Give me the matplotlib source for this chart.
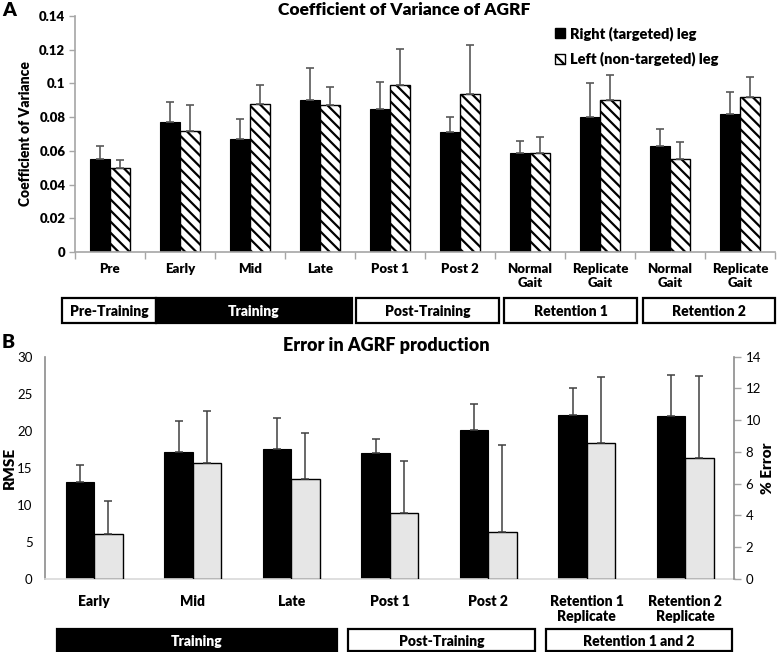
import matplotlib
matplotlib.use("Agg")
import matplotlib.pyplot as plt
from matplotlib.patches import Rectangle, Patch
import numpy as np

plt.rcParams['font.family'] = ['Lato', 'DejaVu Sans']
plt.rcParams['hatch.linewidth'] = 1.6

# ---- Panel A data ----
cats_a = ["Pre", "Early", "Mid", "Late", "Post 1", "Post 2",
          "Normal\nGait", "Replicate\nGait", "Normal\nGait", "Replicate\nGait"]
right_leg = [0.055, 0.077, 0.067, 0.090, 0.085, 0.071, 0.059, 0.080, 0.063, 0.082]
right_err = [0.008, 0.012, 0.012, 0.019, 0.016, 0.009, 0.007, 0.020, 0.010, 0.013]
left_leg = [0.050, 0.072, 0.088, 0.087, 0.099, 0.094, 0.059, 0.090, 0.055, 0.092]
left_err = [0.0045, 0.015, 0.011, 0.011, 0.0215, 0.029, 0.0095, 0.015, 0.010, 0.012]
yticks_a = [0, 0.02, 0.04, 0.06, 0.08, 0.1, 0.12, 0.14]
ytick_labels_a = ["0", "0.02", "0.04", "0.06", "0.08", "0.1", "0.12", "0.14"]
groups_a = ["Pre-Training", "Training", "Post-Training", "Retention 1", "Retention 2"]

# ---- Panel B data ----
cats_b = ["Early", "Mid", "Late", "Post 1", "Post 2",
          "Retention 1\nReplicate", "Retention 2\nReplicate"]
rmse = [13.1, 17.1, 17.6, 17.0, 20.1, 22.1, 22.0]
rmse_err = [2.3, 4.2, 4.1, 1.9, 3.5, 3.7, 5.5]
pct_err_val = [2.83, 7.28, 6.32, 4.14, 2.94, 8.55, 7.6]
pct_err_sd = [2.1, 3.3, 2.9, 3.3, 5.5, 4.2, 5.2]
groups_b = ["Training", "Post-Training", "Retention 1 and 2"]

W, H = 778, 652
fig = plt.figure(figsize=(W / 100, H / 100), dpi=100)
BOLD = "heavy"


def fx(x):
    return x / W


def fy(y):
    return 1 - y / H


SPINE = "#a6a6a6"
ERRC = "#595959"

# ================= Panel A =================
axA = fig.add_axes([fx(75), fy(252), (775 - 75) / W, (252 - 16) / H])
xa = np.arange(len(cats_a))
bw = 0.286
axA.bar(xa - bw / 2, right_leg, bw, color="black", edgecolor="black", linewidth=0.8,
        yerr=[np.zeros(len(xa)), right_err],
        error_kw=dict(ecolor=ERRC, elinewidth=1.2, capsize=3, capthick=1.2))
axA.bar(xa + bw / 2, left_leg, bw, color="white", edgecolor="black", linewidth=1.0,
        hatch="\\\\\\",
        yerr=[np.zeros(len(xa)), left_err],
        error_kw=dict(ecolor=ERRC, elinewidth=1.2, capsize=3, capthick=1.2))
axA.set_xlim(-0.5, len(cats_a) - 0.5)
axA.set_ylim(0, 0.14)
axA.set_yticks(yticks_a)
axA.set_yticklabels(ytick_labels_a, fontweight=BOLD, fontsize=9.5)
axA.set_xticks(np.arange(len(cats_a) + 1) - 0.5, minor=False)
axA.set_xticklabels([])
axA.tick_params(axis="x", length=5, color=SPINE, width=1)
axA.tick_params(axis="y", length=4, color=SPINE, width=1, pad=3)
for s in ["top", "right"]:
    axA.spines[s].set_visible(False)
for s in ["left", "bottom"]:
    axA.spines[s].set_color(SPINE)
    axA.spines[s].set_linewidth(1.2)
axA.set_ylabel("Coefficient of Variance", fontweight=BOLD, fontsize=10, labelpad=5)
for i, c in enumerate(cats_a):
    axA.text(i, -0.0068, c, ha="center", va="top", fontweight=BOLD, fontsize=9.5,
             linespacing=1.15)

leg = axA.legend(handles=[Patch(facecolor="black", edgecolor="black"),
                          Patch(facecolor="white", edgecolor="black", hatch="\\\\\\")],
                 labels=["Right (targeted) leg", "Left (non-targeted) leg"],
                 loc="upper left", bbox_to_anchor=((542 - 75) / 700, (252 - 13) / 236),
                 frameon=False, handlelength=0.7, handleheight=0.7, handletextpad=0.3,
                 labelspacing=0.75, prop=dict(weight=BOLD, size=10.5))

fig.text(fx(404), fy(10), "Coefficient of Variance of AGRF", ha="center", va="center",
         fontweight=BOLD, fontsize=12.5)
fig.text(fx(2), fy(11), "A", ha="left", va="center", fontweight=BOLD, fontsize=14)

# group boxes A
boxes_a = [(62, 156, False), (156, 352, True), (356, 499, False), (504, 637, False), (643, 775, False)]
for (x0, x1, filled), g in zip(boxes_a, groups_a):
    y0, y1 = 298, 323
    r = Rectangle((fx(x0), fy(y1)), (x1 - x0) / W, (y1 - y0) / H, transform=fig.transFigure,
                  facecolor="black" if filled else "white", edgecolor="black", linewidth=1.6)
    fig.add_artist(r)
    fig.text(fx((x0 + x1) / 2), fy((y0 + y1) / 2 + 1), g, ha="center", va="center",
             fontweight=BOLD, fontsize=10, color="white" if filled else "black")

# ================= Panel B =================
axB = fig.add_axes([fx(45), fy(579), (734.5 - 45) / W, (579 - 356.7) / H])
axB2 = axB.twinx()
xb = np.arange(len(cats_b))
bw2 = 0.287
axB.bar(xb - bw2 / 2, rmse, bw2, color="black", edgecolor="black", linewidth=0.8,
        yerr=[np.zeros(len(xb)), rmse_err],
        error_kw=dict(ecolor="#404040", elinewidth=1.1, capsize=3, capthick=1.1))
axB2.bar(xb + bw2 / 2, pct_err_val, bw2, color="#e6e6e6", edgecolor="black", linewidth=1.0,
         yerr=[np.zeros(len(xb)), pct_err_sd],
         error_kw=dict(ecolor="#404040", elinewidth=1.1, capsize=3, capthick=1.1))
axB.set_xlim(-0.5, len(cats_b) - 0.5)
axB.set_ylim(0, 30)
axB2.set_ylim(0, 14)
axB.set_yticks(range(0, 31, 5))
axB2.set_yticks(range(0, 15, 2))
axB.tick_params(axis="y", length=0, labelsize=9.5, pad=9)
axB2.tick_params(axis="y", length=5, color=SPINE, width=1, labelsize=9.5, pad=3)
axB.set_xticks([])
for ax in (axB, axB2):
    ax.spines["top"].set_visible(False)
axB.spines["right"].set_visible(False)
axB.spines["left"].set_color("#8c8c8c")
axB.spines["left"].set_linewidth(1.2)
axB.spines["bottom"].set_color("#d9d9d9")
axB.spines["bottom"].set_linewidth(1.2)
axB2.spines["right"].set_color("#8c8c8c")
axB2.spines["right"].set_linewidth(1.2)
axB2.spines["left"].set_visible(False)
axB2.spines["bottom"].set_visible(False)
fig.text(fx(9), fy(468), "RMSE", rotation=90, ha="center", va="center",
         fontweight=BOLD, fontsize=11)
fig.text(fx(768), fy(468), "% Error", rotation=90, ha="center", va="center",
         fontweight=BOLD, fontsize=11)
for i, c in enumerate(cats_b):
    axB.text(i, -2.1, c, ha="center", va="top", fontweight=BOLD, fontsize=10,
             linespacing=1.2, transform=axB.transData)

fig.text(fx(386), fy(345), "Error in AGRF production", ha="center", va="center",
         fontweight=BOLD, fontsize=13)
fig.text(fx(2), fy(343), "B", ha="left", va="center", fontweight=BOLD, fontsize=14)

boxes_b = [(57, 337, True), (348, 535, False), (546, 732, False)]
for (x0, x1, filled), g in zip(boxes_b, groups_b):
    y0, y1 = 629, 651
    r = Rectangle((fx(x0), fy(y1)), (x1 - x0) / W, (y1 - y0) / H, transform=fig.transFigure,
                  facecolor="black" if filled else "white", edgecolor="black", linewidth=1.6)
    fig.add_artist(r)
    fig.text(fx((x0 + x1) / 2), fy((y0 + y1) / 2 + 1), g, ha="center", va="center",
             fontweight=BOLD, fontsize=10, color="white" if filled else "black")

fig.savefig("out.png", dpi=100)
